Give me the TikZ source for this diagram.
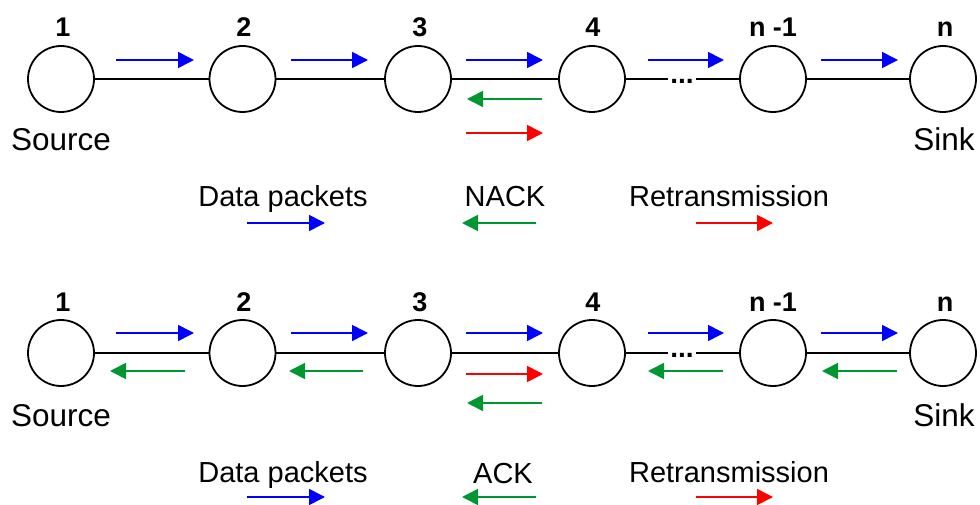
\documentclass[tikz,border=0pt]{standalone}
\usepackage{fontspec}
\setmainfont{Liberation Sans}
\usetikzlibrary{arrows.meta}
\definecolor{ablue}{RGB}{0,0,255}
\definecolor{agreen}{RGB}{0,150,50}
\definecolor{ared}{RGB}{255,0,0}
\tikzset{
  nodec/.style={circle,draw=black,line width=1.8pt,minimum size=66pt,inner sep=0pt},
  link/.style={line width=1.8pt},
  num/.style={font=\fontsize{27}{30}\selectfont\bfseries,anchor=base,inner sep=0pt},
  endlbl/.style={font=\fontsize{31.5}{34}\selectfont,anchor=base,inner sep=0pt},
  leg/.style={font=\fontsize{29}{32}\selectfont,anchor=base,inner sep=0pt},
  dotsbox/.style={font=\fontsize{28}{30}\selectfont\bfseries,inner xsep=2pt,inner ysep=0pt},
  pkt/.style={line width=1.6pt,-{Triangle[length=16pt,width=16pt]}},
  datap/.style={pkt,draw=ablue,fill=ablue},
  ackp/.style={pkt,draw=agreen,fill=agreen},
  retp/.style={pkt,draw=ared,fill=ared}
}
\begin{document}
\begin{tikzpicture}[x=1pt,y=-1pt]
\useasboundingbox (0,0) rectangle (980,505);
% ---------- top row ----------
\node[nodec] (a1) at (61,79) {};
\node[nodec] (a2) at (242.5,79) {};
\node[nodec] (a3) at (418,79) {};
\node[nodec] (a4) at (592,79) {};
\node[nodec] (a5) at (773,79) {};
\node[nodec] (a6) at (943,79) {};
\node[dotsbox] (d1) at (682,81) {...};
\draw[link] (a1) -- (a2);
\draw[link] (a2) -- (a3);
\draw[link] (a3) -- (a4);
\draw[link] (a4) -- (a4 -| d1.west);
\draw[link] (a5 -| d1.east) -- (a5);
\draw[link] (a5) -- (a6);
\node[num] (na1) at (63,37) {1};
\node[num] (na2) at (244,37) {2};
\node[num] (na3) at (420,37) {3};
\node[num] (na4) at (593,37) {4};
\node[num] (na5) at (773,37) {n -1};
\node[num] (na6) at (945,37) {n};
\node[endlbl] (srcA) at (61,151) {Source};
\node[endlbl] (snkA) at (944,151) {Sink};
\draw[datap] (116,60) -- (194,60);
\draw[datap] (291,60) -- (368,60);
\draw[datap] (466,60) -- (543,60);
\draw[datap] (648,60) -- (724,60);
\draw[datap] (821,60) -- (898,60);
\draw[ackp] (542,99) -- (467,99);
\draw[retp] (466,133) -- (543,133);
% legend top
\node[leg] (lgA1) at (283,207) {Data packets};
\node[leg] (lgA2) at (505,207) {NACK};
\node[leg] (lgA3) at (729,207) {Retransmission};
\draw[datap] (247,223) -- (325,223);
\draw[ackp] (536,223) -- (462,223);
\draw[retp] (696,223) -- (773,223);
% ---------- bottom row ----------
\node[nodec] (b1) at (61,353) {};
\node[nodec] (b2) at (242.5,353) {};
\node[nodec] (b3) at (418,353) {};
\node[nodec] (b4) at (592,353) {};
\node[nodec] (b5) at (773,353) {};
\node[nodec] (b6) at (943,353) {};
\node[dotsbox] (d2) at (682,355) {...};
\draw[link] (b1) -- (b2);
\draw[link] (b2) -- (b3);
\draw[link] (b3) -- (b4);
\draw[link] (b4) -- (b4 -| d2.west);
\draw[link] (b5 -| d2.east) -- (b5);
\draw[link] (b5) -- (b6);
\node[num] (nb1) at (63,311) {1};
\node[num] (nb2) at (244,311) {2};
\node[num] (nb3) at (420,311) {3};
\node[num] (nb4) at (593,311) {4};
\node[num] (nb5) at (773,311) {n -1};
\node[num] (nb6) at (945,311) {n};
\node[endlbl] (srcB) at (61,426) {Source};
\node[endlbl] (snkB) at (944,426) {Sink};
\draw[datap] (116,333) -- (194,333);
\draw[datap] (291,333) -- (368,333);
\draw[datap] (466,333) -- (543,333);
\draw[datap] (648,333) -- (724,333);
\draw[datap] (821,333) -- (898,333);
\draw[ackp] (185,371) -- (110,371);
\draw[ackp] (363,371) -- (289,371);
\draw[retp] (466,374) -- (543,374);
\draw[ackp] (542,403) -- (467,403);
\draw[ackp] (723,371) -- (648,371);
\draw[ackp] (897,371) -- (822,371);
% legend bottom
\node[leg] (lgB1) at (283,482) {Data packets};
\node[leg] (lgB2) at (503,483) {ACK};
\node[leg] (lgB3) at (729,482) {Retransmission};
\draw[datap] (247,497) -- (325,497);
\draw[ackp] (536,497) -- (462,497);
\draw[retp] (696,497) -- (773,497);
\end{tikzpicture}
\end{document}
